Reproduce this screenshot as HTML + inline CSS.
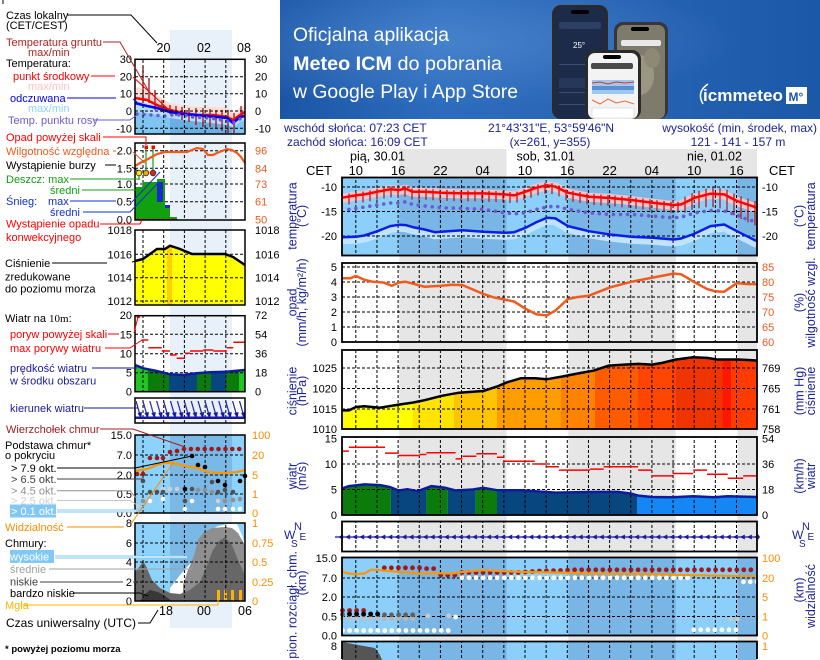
<!DOCTYPE html>
<html><head><meta charset="utf-8">
<style>
html,body{margin:0;padding:0;background:#fff;width:820px;height:660px;overflow:hidden;}
svg{display:block;font-family:"Liberation Sans",Arial,sans-serif;}
</style></head><body>
<svg width="820" height="660" viewBox="0 0 820 660" xmlns="http://www.w3.org/2000/svg" overflow="hidden">
<defs>
 <linearGradient id="bg" x1="0" y1="0" x2="1" y2="0">
  <stop offset="0" stop-color="#1b56a6"/>
  <stop offset="0.3" stop-color="#2d6cbd"/>
  <stop offset="0.55" stop-color="#2a66b6"/>
  <stop offset="1" stop-color="#1c58a8"/>
 </linearGradient>
 <radialGradient id="glow" cx="0.3" cy="0.35" r="0.55">
  <stop offset="0" stop-color="#5b93d8" stop-opacity="0.55"/>
  <stop offset="1" stop-color="#5b93d8" stop-opacity="0"/>
 </radialGradient>
 <pattern id="vg" patternUnits="userSpaceOnUse" x="355.3" y="0" width="21.15" height="5"><rect x="0" y="0" width="1" height="3" fill="#000"/></pattern>
 <pattern id="vgl" patternUnits="userSpaceOnUse" x="142.5" y="0" width="20.7" height="5"><rect x="0" y="0" width="1" height="3" fill="#000"/></pattern>
 <pattern id="arr" patternUnits="userSpaceOnUse" x="338" y="533.5" width="7.05" height="7"><polygon points="0,3.5 5,1 5,6" fill="#1a1aa0"/></pattern>
 <pattern id="arrD" patternUnits="userSpaceOnUse" x="135" y="399" width="6.9" height="24"><path d="M1 2 L5 16" stroke="#1a1aa0" stroke-width="1.2" fill="none"/><polygon points="2.5,14 7,13 6,20" fill="#1a1aa0"/></pattern>
 <clipPath id="cpP"><polygon points="342,410.4 348.9,410.4 355.8,407 364.4,406.3 379.9,407.7 398.8,404.6 412.6,402.6 424.6,400.2 441.8,395.8 459.1,392.7 483.2,391 496.9,386.6 507.3,382.2 521,378.2 534.8,378.2 546.9,379.2 562.4,376.5 579.6,373.1 593.4,370.7 608.9,365.6 624.4,364.6 638.1,363.9 651.9,364.6 662.2,362.9 676,359.5 693.2,357.2 707,357.9 717.3,359.5 738,359.5 757,360.5 757,429 342,429"/></clipPath>
 <clipPath id="cpW"><polygon points="342,488.5 348.9,486.1 364.4,484.4 379.9,485.1 390.2,487.1 398.8,490.5 407.4,489.2 417.7,491.2 431.5,486.1 445.3,487.8 455.6,490.5 472.8,489.5 483.2,487.8 496.9,490.2 521,490.2 534.8,491.2 555.5,492.6 576.1,492.2 596.8,491.9 617.5,491.9 631.2,493.6 638.1,495.6 651.9,497 672.5,497.3 693.2,496.3 713.9,497.3 727.7,496.3 757,497 757,515 342,515"/></clipPath>
 <clipPath id="cpLP"><polygon points="135,261 143,259 150,254 157,249 165,249 170,245.7 180,249 192,254 225,254 233,257 245,265 245,305 135,305"/></clipPath>
 <clipPath id="cpLW"><polygon points="135,365 143.3,368.3 156.7,371 170,374.3 183.3,375 196.7,373.3 210,372.3 226.7,371.7 236.7,370.7 245,370 245,391.7 135,391.7"/></clipPath>
</defs>

<!-- ================= BANNER ================= -->
<rect x="280" y="0" width="540" height="119" fill="url(#bg)"/>
<rect x="280" y="0" width="540" height="119" fill="url(#glow)"/>
<text x="293" y="41" font-size="19.5" fill="#fff" textLength="156" lengthAdjust="spacingAndGlyphs">Oficjalna aplikacja</text>
<text x="293" y="70" font-size="19.5" fill="#fff" textLength="209" lengthAdjust="spacingAndGlyphs"><tspan font-weight="bold">Meteo ICM</tspan> do pobrania</text>
<text x="293" y="98" font-size="19.5" fill="#fff" textLength="225" lengthAdjust="spacingAndGlyphs">w Google Play i App Store</text>
<rect x="552" y="5" width="56" height="114" rx="9" fill="#2a2a2c"/>
<rect x="555" y="8" width="50" height="111" rx="7" fill="#1c2b49"/>
<rect x="571" y="10" width="18" height="4" rx="2" fill="#000"/>
<rect x="559" y="22" width="42" height="7" rx="2" fill="#2d3f62"/>
<text x="573" y="48" font-size="8" fill="#fff">25°</text>
<rect x="559" y="64" width="42" height="1" fill="#3b4d70"/>
<rect x="559" y="78" width="42" height="10" rx="2" fill="#26375a"/>
<rect x="559" y="92" width="42" height="1" fill="#3b4d70"/>
<rect x="559" y="104" width="42" height="1" fill="#3b4d70"/>
<rect x="614" y="22" width="54" height="97" rx="9" fill="#37373a"/>
<rect x="617" y="25" width="48" height="94" rx="7" fill="#7e7b6c"/>
<rect x="631" y="27" width="18" height="4" rx="2" fill="#000"/>
<ellipse cx="640" cy="75" rx="14" ry="20" fill="#9a9780"/>
<ellipse cx="628" cy="100" rx="9" ry="12" fill="#6b6e58"/>
<ellipse cx="652" cy="58" rx="8" ry="10" fill="#8c8a76"/>
<rect x="621" y="40" width="40" height="6" rx="2" fill="#e8e8e8"/>
<rect x="585" y="50" width="56" height="69" rx="9" fill="#2a2a2c"/>
<rect x="588" y="53" width="50" height="66" rx="7" fill="#f3f3f3"/>
<rect x="603" y="55" width="18" height="4" rx="2" fill="#000"/>
<rect x="591" y="63" width="42" height="6" rx="2" fill="#4a4a4a"/>
<rect x="592" y="80" width="42" height="14" fill="#9fc8ef"/>
<rect x="592" y="86" width="42" height="4" fill="#5a8fd0"/>
<polyline points="592,83 600,82 608,84 616,82 625,83 634,82" stroke="#e03030" fill="none" stroke-width="1"/>
<polyline points="592,100 600,104 608,99 616,103 625,101 634,104" stroke="#e07040" fill="none" stroke-width="1"/>
<rect x="592" y="108" width="42" height="10" fill="#fff" stroke="#ccc" stroke-width="0.5"/>
<path d="M703 104 Q696 92 708 84" stroke="#fff" stroke-width="1.5" fill="none"/>
<text x="703" y="101" font-size="17" font-weight="bold" fill="#fff" textLength="80" lengthAdjust="spacingAndGlyphs">icmmeteo</text>
<rect x="786" y="87" width="21" height="17" fill="#fff"/>
<text x="788.5" y="101" font-size="12" font-weight="bold" fill="#1a56a8">M°</text>

<!-- ================= LEFT LEGEND PANEL ================= -->
<rect x="170" y="30" width="62" height="598" fill="#e8f0fa"/>
<line x1="3" y1="0" x2="3" y2="4" stroke="#000"/>

<polygon points="135,87 147,90 157,95 170,103 187,106 207,107 227,107 233,113 240,108 245,106 245,114 240,117 233,122 227,119 213,117 197,117 183,115 170,112 157,107 147,102 135,100" fill="#ffdcd4"/>
<polygon points="135,100 147,103 157,105 170,109 183,111 207,113 227,115 233,120 240,114 245,113 245,134 135,134" fill="#b2deff"/>
<polygon points="135,112 147,113 157,115 170,118 190,121 210,123 227,125 233,127 240,122 245,120 245,134 135,134" fill="#80c4f2"/>
<polygon points="170,118 190,121 210,123 227,125 232,127 232,134 170,134" fill="#6aaee2"/>
<path d="M143 67V100 M149 78V103 M155 90V110 M162 100V112 M170 105V114 M176 106V116 M182 107V120 M189 108V122 M196 108V125 M203 108V127 M210 109V127 M216 110V129 M222 110V131 M228 110V133 M234 113V133 M241 106V118" stroke="#a01010" stroke-width="1.3"/>
<polyline points="135,98 147,100 157,105 170,110 183,113 197,115 213,115 227,117 233,120 240,115 245,112" fill="none" stroke="#f00" stroke-width="2.5"/>
<polyline points="135,103 147,106 157,108 170,112 183,114 207,116 227,118 233,123 240,117 245,116" fill="none" stroke="#00f" stroke-width="2.5"/>
<polyline points="137,114 166,116 172,115 182,115 192,117 208,118 217,119 227,121 233,123 240,119 245,118" fill="none" stroke="#6b5bd2" stroke-width="3.4" stroke-dasharray="0 7" stroke-linecap="round"/>
<rect x="135" y="59.3" width="110" height="74.7" fill="url(#vgl)"/>
<g stroke="#000" stroke-width="1" stroke-dasharray="3 2"><path d="M135 76.7H245 M135 93.7H245 M135 111H245 M135 128.3H245"/></g>
<rect x="135" y="59.3" width="110" height="74.7" fill="none" stroke="#000" stroke-width="1.5"/>

<rect x="135" y="143" width="110" height="77" fill="url(#vgl)"/>
<g stroke="#000" stroke-width="1" stroke-dasharray="3 2"><path d="M135 150.7H245 M135 168.3H245 M135 184H245 M135 201.7H245"/></g>
<rect x="135" y="187" width="8" height="33" fill="#10a010"/>
<rect x="143" y="182" width="14" height="38" fill="#10a010"/>
<rect x="157" y="179" width="8" height="41" fill="#10a010"/>
<rect x="165" y="208" width="5" height="12" fill="#10a010"/>
<rect x="170" y="217" width="7" height="3" fill="#10a010"/>
<rect x="157" y="182" width="6" height="20" fill="#1a2ac8"/>
<rect x="165" y="205" width="5" height="3" fill="#1a2ac8"/>
<path d="M137 219.5H176" stroke="#f00" stroke-width="1.5" stroke-dasharray="3 2"/>
<path d="M139 172V180 M146 147V172 M153 147V172" stroke="#10a010" stroke-width="1.2"/>
<rect x="144.5" y="145.5" width="3.5" height="3.5" fill="#f00"/>
<rect x="151.5" y="145.5" width="3.5" height="3.5" fill="#f00"/>
<circle cx="139" cy="173" r="2.8" fill="#ffe000" stroke="#303030" stroke-width="0.8"/>
<circle cx="146" cy="173" r="2.8" fill="#f0a000" stroke="#303030" stroke-width="0.8"/>
<circle cx="153" cy="173" r="2.8" fill="#e02020" stroke="#303030" stroke-width="0.8"/>
<polyline points="135,166 140,163 148,159 157,154 165,152 173,152 187,152 197,148 203,149 208,155 213,155 217,153 227,149 232,150 237,153 241,157 245,163" fill="none" stroke="#f05a1e" stroke-width="2.2"/>
<rect x="135" y="143" width="110" height="77" fill="none" stroke="#000" stroke-width="1.5"/>

<g clip-path="url(#cpLP)"><rect x="135" y="240" width="110" height="70" fill="#ffff00"/><rect x="167" y="240" width="5" height="70" fill="#ffd000"/></g>
<rect x="135" y="230" width="110" height="75" fill="url(#vgl)"/>
<g stroke="#000" stroke-width="1" stroke-dasharray="3 2"><path d="M135 254.3H245 M135 277.7H245 M135 301H245"/></g>
<polyline points="135,261 143,259 150,254 157,249 165,249 170,245.7 180,249 192,254 225,254 233,257 245,265" fill="none" stroke="#000" stroke-width="2.5"/>
<rect x="135" y="230" width="110" height="75" fill="none" stroke="#000" stroke-width="1.5"/>

<g clip-path="url(#cpLW)">
<rect x="135" y="360" width="13" height="32" fill="#22c322"/><rect x="148" y="360" width="21" height="32" fill="#0b7b0b"/><rect x="169" y="360" width="28" height="32" fill="#08467f"/><rect x="197" y="360" width="14" height="32" fill="#0b7b0b"/><rect x="211" y="360" width="15" height="32" fill="#08467f"/><rect x="226" y="360" width="13" height="32" fill="#0b7b0b"/><rect x="239" y="360" width="6" height="32" fill="#22c322"/>
</g>
<rect x="135" y="315.7" width="110" height="76" fill="url(#vgl)"/>
<g stroke="#000" stroke-width="1" stroke-dasharray="3 2"><path d="M135 334.3H245 M135 353.7H245 M135 372.7H245"/></g>
<path d="M141.7 340H148.3 M148.3 347.7H161.7 M161.7 351H170 M170 355H176.7 M176.7 358.3H185 M185 353.3H190 M190 351H203.3 M203.3 350H213.3 M213.3 351H226.7 M226.7 347.7H233.3 M233.3 342.3H245" stroke="#f00" stroke-width="1.5"/>
<circle cx="138.3" cy="316.5" r="1.8" fill="#f00"/>
<polyline points="135,365 143.3,368.3 156.7,371 170,374.3 183.3,375 196.7,373.3 210,372.3 226.7,371.7 236.7,370.7 245,370" fill="none" stroke="#0c1c9c" stroke-width="2.5"/>
<rect x="135" y="315.7" width="110" height="76" fill="none" stroke="#000" stroke-width="1.5"/>

<rect x="135" y="398" width="110" height="25" fill="url(#vgl)"/>
<rect x="136" y="399" width="109" height="23" fill="url(#arrD)"/>
<rect x="135" y="416.5" width="110" height="2.5" fill="#1a1aa0"/>
<rect x="135" y="398" width="110" height="25" fill="none" stroke="#000" stroke-width="1.5"/>

<rect x="135" y="435" width="110" height="78" fill="#8dd2fb"/>
<rect x="170" y="435" width="62" height="78" fill="#7ab8e6"/>
<rect x="135" y="435" width="110" height="78" fill="url(#vgl)"/>
<g stroke="#000" stroke-width="1" stroke-dasharray="3 2"><path d="M135 455H245 M135 475H245 M135 494H245"/></g>
<g fill="#fff"><circle cx="143" cy="501" r="2.3"/><circle cx="150" cy="501" r="2.3"/><circle cx="163" cy="499" r="2.3"/><circle cx="185" cy="509" r="2.3"/><circle cx="192" cy="501" r="2.3"/><circle cx="218" cy="509" r="2.3"/><circle cx="225" cy="509" r="2.3"/><circle cx="233" cy="509" r="2.3"/><circle cx="240" cy="509" r="2.3"/></g>
<g fill="#d0d0d0"><circle cx="137" cy="506" r="2.3"/><circle cx="163" cy="489" r="2.3"/><circle cx="170" cy="489" r="2.3"/><circle cx="177" cy="489" r="2.3"/><circle cx="218" cy="501" r="2.3"/></g>
<g fill="#909090"><circle cx="143" cy="501" r="2.3"/><circle cx="198" cy="490" r="2.3"/><circle cx="205" cy="490" r="2.3"/><circle cx="212" cy="492" r="2.3"/><circle cx="225" cy="501" r="2.3"/><circle cx="233" cy="500" r="2.3"/><circle cx="240" cy="499" r="2.3"/></g>
<g fill="#505050"><circle cx="143" cy="481" r="2.3"/><circle cx="150" cy="492" r="2.3"/><circle cx="157" cy="492" r="2.3"/><circle cx="163" cy="492" r="2.3"/><circle cx="185" cy="501" r="2.3"/><circle cx="192" cy="489" r="2.3"/><circle cx="212" cy="482" r="2.3"/><circle cx="218" cy="492" r="2.3"/><circle cx="225" cy="490" r="2.3"/><circle cx="233" cy="492" r="2.3"/></g>
<g fill="#000"><circle cx="192" cy="456" r="2.3"/><circle cx="198" cy="465" r="2.3"/><circle cx="205" cy="467" r="2.3"/><circle cx="218" cy="481" r="2.3"/><circle cx="225" cy="485" r="2.3"/><circle cx="240" cy="481" r="2.3"/><circle cx="185" cy="489" r="2.3"/><circle cx="245" cy="476" r="2.3"/></g>
<g fill="#a01818"><circle cx="137" cy="474" r="2.3"/><circle cx="143" cy="474" r="2.3"/><circle cx="150" cy="458" r="2.3"/><circle cx="157" cy="458" r="2.3"/><circle cx="163" cy="458" r="2.3"/><circle cx="170" cy="452" r="2.3"/><circle cx="177" cy="451" r="2.3"/></g>
<polyline points="184,449 245,449" fill="none" stroke="#a01818" stroke-width="4.6" stroke-dasharray="0 6.9" stroke-linecap="round"/>
<polyline points="135,471 147,469 157,465 163,463 173,463 185,466 197,468 207,472 217,473 227,473 237,472 245,470" fill="none" stroke="#ff9600" stroke-width="2.2"/>
<rect x="135" y="435" width="110" height="78" fill="none" stroke="#000" stroke-width="1.5"/>

<rect x="135" y="523" width="110" height="78" fill="#8dd2fb"/>
<rect x="170" y="523" width="62" height="78" fill="#7ab8e6"/>
<polygon points="170,601 170,588 180,575 188,566 195,558 198,545 203,538 210,530 218,526 228,524 237,524 242,535 245,545 245,601" fill="#fff"/>
<polygon points="135,601 135,585 145,580 155,588 165,595 175,598 183,596 183,585 188,570 194,556 198,540 203,533 212,528 225,527 232,528 238,533 245,545 245,601" fill="#8f8f8f"/>
<polygon points="135,601 135,572 140,566 143,561 146,566 152,580 160,588 170,593 180,594 190,590 200,582 206,568 212,552 218,542 225,537 232,545 238,560 245,575 245,601" fill="#676767"/>
<polygon points="140,601 145,594 150,590 158,592 165,596 172,601" fill="#383838"/>
<g fill="#ffb000"><rect x="217" y="590" width="3" height="11"/><rect x="224" y="590" width="3" height="11"/><rect x="231" y="590" width="3" height="11"/><rect x="239" y="590" width="3" height="11"/></g>
<rect x="135" y="523" width="110" height="78" fill="url(#vgl)"/>
<g stroke="#000" stroke-width="1" stroke-dasharray="3 2"><path d="M135 543H245 M135 562H245 M135 582H245"/></g>
<rect x="135" y="523" width="110" height="78" fill="none" stroke="#000" stroke-width="1.5"/>

<g font-size="11" fill="#000" text-anchor="end">
<text x="132" y="63">30</text><text x="132" y="80.7">20</text><text x="132" y="97.7">10</text><text x="132" y="115">0</text><text x="132" y="132.3">-10</text>
<text x="132" y="154.7">2.0</text><text x="132" y="172.3">1.5</text><text x="132" y="188">1.0</text><text x="132" y="205.7">0.5</text><text x="132" y="223.3">0.0</text>
<text x="132" y="234">1018</text><text x="132" y="258.3">1016</text><text x="132" y="281.7">1014</text><text x="132" y="305">1012</text>
<text x="132" y="319">20</text><text x="132" y="338.3">15</text><text x="132" y="357.7">10</text><text x="132" y="376.7">5</text><text x="132" y="395.7">0</text>
<text x="132" y="439">15.0</text><text x="132" y="459">7.0</text><text x="132" y="479">2.0</text><text x="132" y="498">0.5</text><text x="132" y="517">0.0</text>
<text x="132" y="527">8</text><text x="132" y="547">6</text><text x="132" y="566">4</text><text x="132" y="586">2</text><text x="132" y="605">0</text>
</g>
<g font-size="11" fill="#000">
<text x="255" y="63">30</text><text x="255" y="80.7">20</text><text x="255" y="97.7">10</text><text x="255" y="115">0</text><text x="255" y="132.3">-10</text>
<text x="255" y="234">1018</text><text x="255" y="258.3">1016</text><text x="255" y="281.7">1014</text><text x="255" y="305">1012</text>
<text x="255" y="319">72</text><text x="255" y="338.3">54</text><text x="255" y="357.7">36</text><text x="255" y="376.7">18</text><text x="255" y="395.7">0</text>
</g>
<g font-size="11" fill="#f05a1e">
<text x="255" y="154.7">96</text><text x="255" y="172.3">84</text><text x="255" y="188">73</text><text x="255" y="205.7">61</text><text x="255" y="223.3">50</text>
</g>
<g font-size="11" fill="#ff8c00">
<text x="252" y="439">100</text><text x="252" y="459">20</text><text x="252" y="479">5</text><text x="252" y="498">1</text><text x="252" y="517">0</text>
<text x="252" y="527">1</text><text x="252" y="547">0.75</text><text x="252" y="566">0.5</text><text x="252" y="586">0.25</text><text x="252" y="605">0</text>
</g>
<g font-size="12.5" fill="#000" text-anchor="middle">
<text x="163.5" y="52">20</text><text x="204" y="52">02</text><text x="244" y="52">08</text>
<text x="166" y="615">18</text><text x="204" y="615">00</text><text x="245" y="615">06</text>
</g>

<g fill="none" stroke-width="1">
<polyline points="67,15 131,15 157,43" stroke="#000"/>
<polyline points="103,42 120,42 148,90" stroke="#b22222"/>
<polyline points="91,76 115,76" stroke="#f00"/><polyline points="133,77 167,108" stroke="#f00"/>
<polyline points="67,98 116,98" stroke="#00f"/><polyline points="133,99 137,102" stroke="#00f"/>
<polyline points="94,120 130,120 137,115" stroke="#6b5bd2"/>
<polyline points="103,137 146,137 146,145" stroke="#f00"/>
<polyline points="113,151 116,151" stroke="#f05a1e"/><polyline points="133,152 145,163" stroke="#f05a1e"/>
<polyline points="105,165 116,165" stroke="#000"/><polyline points="132,167 138,171" stroke="#000"/>
<polyline points="70,179 139,179" stroke="#10a010"/>
<polyline points="82,190 136,190" stroke="#10a010"/>
<polyline points="70,201 116,201" stroke="#1030d0"/><polyline points="132,202 160,172" stroke="#1030d0"/>
<polyline points="83,212 130,212 158,183" stroke="#1030d0"/>
<polyline points="100,224 140,224 142,220" stroke="#f00"/>
<polyline points="52,263 107,263" stroke="#000"/><polyline points="132,262 136,261" stroke="#000"/>
<polyline points="108,334 119,334" stroke="#f00"/><polyline points="134,333 138,317" stroke="#f00"/>
<polyline points="105,348 130,348 142,340" stroke="#f00"/>
<polyline points="92,368 137,368" stroke="#1a1a9a"/>
<polyline points="84,408 138,408" stroke="#1a1a9a"/>
<polyline points="100,429 133,429 185,447" stroke="#a02020"/>
<polyline points="57,468 135,468 192,456" stroke="#000"/>
<polyline points="57,479 143,479 143,481" stroke="#404040"/>
<polyline points="57,490.7 130,490.7 136,498" stroke="#909090"/>
<polyline points="57,500.5 130,500.5 137,505" stroke="#c8c8c8"/>
<polyline points="57,511 136,511" stroke="#82c8f5" stroke-width="3"/><polyline points="57,511 136,511" stroke="#fff" stroke-width="1"/>
<polyline points="67,527 124,527" stroke="#ff8c00"/><polyline points="131,524 173,463" stroke="#ff8c00"/>
<polyline points="55,557 187,557" stroke="#82c8f5" stroke-width="3"/><polyline points="55,557 187,557" stroke="#fff" stroke-width="1"/>
<polyline points="49,569 192,569" stroke="#a0a0a0"/>
<polyline points="40,582 123,582" stroke="#404040"/><polyline points="133,582 136,582" stroke="#404040"/>
<polyline points="73,593 140,593 148,596" stroke="#000"/>
<polyline points="23,605 218,605 218,598" stroke="#ffb400"/>
<polyline points="138,623 150,623 158,610" stroke="#000"/>
</g>

<g font-size="11" fill="#000">
<text x="6" y="19">Czas lokalny</text>
<text x="6" y="29">(CET/CEST)</text>
<text x="6" y="46" fill="#b22222">Temperatura gruntu</text>
<text x="28" y="56" fill="#b22222">max/min</text>
<text x="6" y="67">Temperatura:</text>
<text x="13" y="80" fill="#f00">punkt środkowy</text>
<text x="28" y="90" fill="#ffc4c4">max/min</text>
<text x="10" y="102" fill="#00f">odczuwana</text>
<text x="28" y="112" fill="#90d0ff">max/min</text>
<text x="8" y="124" fill="#6b5bd2">Temp. punktu rosy</text>
<text x="6" y="141" fill="#f00">Opad powyżej skali</text>
<text x="6" y="155" fill="#f05a1e">Wilgotność względna</text>
<text x="6" y="169">Wystąpienie burzy</text>
<text x="6" y="183" fill="#10a010">Deszcz: max</text>
<text x="50" y="194" fill="#10a010">średni</text>
<text x="6" y="205" fill="#1030d0">Śnieg:</text><text x="48" y="205" fill="#1030d0">max</text>
<text x="50" y="216" fill="#1030d0">średni</text>
<text x="6" y="227.5" fill="#f00">Wystąpienie opadu</text>
<text x="6" y="241" fill="#f00">konwekcyjnego</text>
<text x="5" y="267">Ciśnienie</text>
<text x="5" y="280.5">zredukowane</text>
<text x="5" y="292.5">do poziomu morza</text>
<text x="5" y="322">Wiatr na <tspan font-family="Liberation Serif, serif">10m</tspan>:</text>
<text x="10" y="338" fill="#f00">poryw powyżej skali</text>
<text x="10" y="352" fill="#f00">max porywy wiatru</text>
<text x="10" y="372" fill="#1a1a9a">prędkość wiatru</text>
<text x="10" y="384.5" fill="#1a1a9a">w środku obszaru</text>
<text x="10" y="412" fill="#1a1a9a">kierunek wiatru</text>
<text x="6" y="433" fill="#a02020">Wierzchołek chmur</text>
<text x="5" y="449">Podstawa chmur*</text>
<text x="5" y="459">o pokryciu</text>
<text x="11" y="472">&gt; 7.9 okt.</text>
<text x="11" y="483" fill="#404040">&gt; 6.5 okt.</text>
<text x="11" y="494.5" fill="#909090">&gt; 4.5 okt.</text>
<text x="11" y="504.5" fill="#d0d0d0">&gt; 2.5 okt.</text>
<rect x="10" y="504.5" width="46" height="13" fill="#82c8f5"/>
<text x="11" y="515" fill="#fff">&gt; 0.1 okt.</text>
<text x="5" y="531" fill="#ff8c00">Widzialność</text>
<text x="5" y="547">Chmury:</text>
<rect x="10" y="550" width="44" height="13" fill="#82c8f5"/>
<text x="10" y="560.5" fill="#fff">wysokie</text>
<text x="10" y="573" fill="#a0a0a0">średnie</text>
<text x="10" y="585.5" fill="#404040">niskie</text>
<text x="10" y="597">bardzo niskie</text>
<text x="5" y="609" fill="#ffb400">Mgła</text>
<text x="6" y="627" font-size="12">Czas uniwersalny (UTC)</text>
<text x="5" y="652" font-size="9.5" font-weight="bold">* powyżej poziomu morza</text>
</g>

<!-- ================= MAIN CHART ================= -->
<g font-size="12" fill="#1e2496">
<text x="284" y="132">wschód słońca: 07:23 CET</text>
<text x="287" y="146">zachód słońca: 16:09 CET</text>
<text x="551" y="132" text-anchor="middle">21°43'31"E, 53°59'46"N</text>
<text x="550" y="146" text-anchor="middle">(x=261,  y=355)</text>
<text x="817" y="132" text-anchor="end">wysokość (min, środek, max)</text>
<text x="738" y="146" text-anchor="middle">121 - 141 - 157 m</text>
</g>
<rect x="399.2" y="149" width="107.4" height="28" fill="#e6e6e6"/>
<rect x="568.4" y="149" width="188.6" height="28" fill="#e6e6e6"/>
<rect x="399.2" y="177" width="107.4" height="483" fill="#e6e6e6"/>
<rect x="568.4" y="177" width="107.4" height="483" fill="#e6e6e6"/>
<rect x="737.6" y="177" width="19.4" height="483" fill="#e6e6e6"/>
<g font-size="12.5" fill="#000">
<text x="350" y="160.5">pią, 30.01</text>
<text x="516.5" y="160.5">sob, 31.01</text>
<text x="687" y="160.5">nie, 01.02</text>
</g>
<g font-size="13" fill="#000" text-anchor="middle">
<text x="319" y="175">CET</text><text x="782" y="175">CET</text>
<text x="355.8" y="175">10</text><text x="398.1" y="175">16</text><text x="440.4" y="175">22</text><text x="482.7" y="175">04</text>
<text x="525" y="175">10</text><text x="567.3" y="175">16</text><text x="609.6" y="175">22</text><text x="651.9" y="175">04</text>
<text x="694.2" y="175">10</text><text x="736.5" y="175">16</text>
</g>

<rect x="342" y="177.5" width="415" height="78" fill="#8ccffa"/>
<rect x="399.2" y="177.5" width="107.4" height="78" fill="#79b5e5"/>
<rect x="568.4" y="177.5" width="107.4" height="78" fill="#79b5e5"/>
<rect x="737.6" y="177.5" width="19.4" height="78" fill="#79b5e5"/>
<polyline points="342,237.2 355.8,236.8 364.4,235.5 377.5,231.2 390.2,226.1 398.8,224.8 405.7,225.1 412.6,227.1 424.6,229.5 435,232.2 441.2,231.8 462.5,230.2 483.5,231.8 504.9,232.8 514.2,232.2 525.5,227.8 536.5,222.1 546.9,217.8 555.5,218.4 567.9,226.1 588.9,231.2 609.9,234.5 631.2,236.8 652.6,237.8 673.6,239.5 681.2,238.5 695,233.5 710.4,226.1 724.2,224.5 737,231.2 757,241.2" fill="none" stroke="#c0e4ff" stroke-width="8" stroke-linejoin="round" transform="translate(0,3)"/>
<polyline points="342,197.7 355.8,195.4 364.4,194.4 377.5,191.7 390.2,189.3 398.8,190 405.7,188.7 412.6,191.7 424.6,191.7 441.2,192.7 462.5,193.4 483.5,193.4 504.9,194.4 514.2,195.4 525.5,191.7 536.5,187.7 546.9,185.3 555.5,186.7 567.9,192.7 588.9,196.7 609.9,198 631.2,200 652.6,202.7 673.6,205 681.2,204.4 695,197.7 710.4,193.7 724.2,194.4 737,201 757,207.7" fill="none" stroke="#f8c4cc" stroke-width="9" stroke-linejoin="round" transform="translate(0,0.5)"/>
<rect x="342" y="177.5" width="415" height="78" fill="url(#vg)"/>
<g stroke="#000" stroke-width="1" stroke-dasharray="3 2"><path d="M342 187H757 M342 211.5H757 M342 236H757"/></g>
<path d="M349 193.5V204.5 M356 192.4V203.4 M363 191.6V202.6 M370 190.2V201.2 M377 188.8V199.8 M384 187.5V198.5 M391 186.4V197.4 M398 186.9V197.9 M405 185.8V196.8 M412 188.5V199.5 M419 188.7V199.7 M426 188.8V199.8 M433 189.2V200.2 M440 189.6V200.6 M447 189.9V200.9 M454 190.1V201.1 M461 190.4V201.4 M468 190.4V201.4 M475 190.4V201.4 M482 190.4V201.4 M489 190.7V201.7 M496 191V202 M503 191.3V202.3 M510 192V203 M517 191.6V202.6 M524 189.2V200.2 M531 186.7V197.7 M538 184.4V195.4 M545 182.7V193.7 M552 183.1V194.1 M559 185.4V196.4 M566 189.4V200.4 M573 190.7V201.7 M580 192V203 M587 193.4V204.4 M594 194V205 M601 194.5V205.5 M608 194.9V205.9 M615 195.5V206.5 M622 196.2V207.2 M629 196.8V207.8 M636 197.7V208.7 M643 198.5V209.5 M650 199.4V210.4 M657 200.2V211.2 M664 200.9V211.9 M671 201.7V212.7 M678 201.7V212.7 M685 196.6V212.6 M692 193.1V209.9 M699 190.7V208.4 M706 188.8V207.3 M713 187.8V207.2 M720 188.2V208.4 M727 189.8V210.8 M734 193.5V215.4 M741 196.3V219 M748 198.6V222.2 M755 201V225.4" stroke="#b01010" stroke-width="1.2"/>
<polyline points="342,237.2 355.8,236.8 364.4,235.5 377.5,231.2 390.2,226.1 398.8,224.8 405.7,225.1 412.6,227.1 424.6,229.5 435,232.2 441.2,231.8 462.5,230.2 483.5,231.8 504.9,232.8 514.2,232.2 525.5,227.8 536.5,222.1 546.9,217.8 555.5,218.4 567.9,226.1 588.9,231.2 609.9,234.5 631.2,236.8 652.6,237.8 673.6,239.5 681.2,238.5 695,233.5 710.4,226.1 724.2,224.5 737,231.2 757,241.2" fill="none" stroke="#0a1ee6" stroke-width="2.5" stroke-linejoin="round"/>
<polyline points="342,197.7 355.8,195.4 364.4,194.4 377.5,191.7 390.2,189.3 398.8,190 405.7,188.7 412.6,191.7 424.6,191.7 441.2,192.7 462.5,193.4 483.5,193.4 504.9,194.4 514.2,195.4 525.5,191.7 536.5,187.7 546.9,185.3 555.5,186.7 567.9,192.7 588.9,196.7 609.9,198 631.2,200 652.6,202.7 673.6,205 681.2,204.4 695,197.7 710.4,193.7 724.2,194.4 737,201 757,207.7" fill="none" stroke="#f00" stroke-width="2.5" stroke-linejoin="round"/>
<polyline points="348.9,209.4 364.4,207 377.5,205 390.2,203 398.8,203 405.7,201.7 412.6,204.4 424.6,206 441.2,207.7 462.5,208.4 483.5,209.4 493.5,211 504.9,212.8 514.2,213.8 525.5,212.8 536.5,209.4 546.9,207 555.5,206 567.9,209.4 588.9,212.8 609.9,214.4 631.2,214.4 652.6,216.1 673.6,217.8 681.2,217.1 695,212.8 710.4,210.5 724.2,211 737,215 748.3,220 757,221.5" fill="none" stroke="#6b5bd2" stroke-width="3.6" stroke-dasharray="0 7.05" stroke-linecap="round"/>
<rect x="342" y="177.5" width="415" height="78" fill="none" stroke="#000" stroke-width="1.8"/>

<rect x="342" y="263" width="415" height="79" fill="url(#vg)"/>
<g stroke="#000" stroke-width="1" stroke-dasharray="3 2"><path d="M342 267H757 M342 282H757 M342 297H757 M342 312H757 M342 327H757"/></g>
<polyline points="342,278.2 350.6,278.2 355.8,275.9 364.4,279.9 373,281.8 383.3,282.5 391.9,285.8 398.8,282.5 405.7,281.8 414.3,284.1 424.6,286.8 441.2,285.8 452.2,284.8 462.5,285.1 483.5,294 493.5,297.3 504.9,299.6 514.2,301.6 525.5,308.8 536.5,314.4 546.9,315.4 555.5,310.5 567.9,299 576.1,297.3 588.9,295.7 609.9,287.4 631.2,281.8 652.6,277.6 673.6,273.6 681.2,274.3 695,282.5 707,289 715.6,291.4 724.2,291.7 737,283.1 748.3,284.1 757,284.1" fill="none" stroke="#f05a1e" stroke-width="2.5" stroke-linejoin="round"/>
<rect x="342" y="263" width="415" height="79" fill="none" stroke="#000" stroke-width="1.8"/>

<g clip-path="url(#cpP)">
<rect x="342" y="350" width="70.6" height="80" fill="#ffff00"/>
<rect x="412.6" y="350" width="41.3" height="80" fill="#ffe400"/>
<rect x="453.9" y="350" width="43.1" height="80" fill="#ffc400"/>
<rect x="497" y="350" width="63.6" height="80" fill="#ff9c00"/>
<rect x="560.6" y="350" width="34.4" height="80" fill="#ff8200"/>
<rect x="595" y="350" width="43" height="80" fill="#ff5c00"/>
<rect x="638" y="350" width="38" height="80" fill="#ff4600"/>
<rect x="676" y="350" width="46.5" height="80" fill="#f03400"/>
<rect x="722.5" y="350" width="8.5" height="80" fill="#ff1800"/>
<rect x="731" y="350" width="26" height="80" fill="#ff3c00"/>
</g>
<rect x="342" y="350" width="415" height="79" fill="url(#vg)"/>
<g stroke="#000" stroke-width="1" stroke-dasharray="3 2"><path d="M342 368H757 M342 388.5H757 M342 409H757"/></g>
<polyline points="342,410.4 348.9,410.4 355.8,407 364.4,406.3 379.9,407.7 398.8,404.6 412.6,402.6 424.6,400.2 441.8,395.8 459.1,392.7 483.2,391 496.9,386.6 507.3,382.2 521,378.2 534.8,378.2 546.9,379.2 562.4,376.5 579.6,373.1 593.4,370.7 608.9,365.6 624.4,364.6 638.1,363.9 651.9,364.6 662.2,362.9 676,359.5 693.2,357.2 707,357.9 717.3,359.5 738,359.5 757,360.5" fill="none" stroke="#000" stroke-width="2.5" stroke-linejoin="round"/>
<rect x="342" y="350" width="415" height="79" fill="none" stroke="#000" stroke-width="1.8"/>

<g clip-path="url(#cpW)">
<rect x="342" y="480" width="48.9" height="36" fill="#0b7b0b"/>
<rect x="390.9" y="480" width="35.5" height="36" fill="#08467f"/>
<rect x="426.4" y="480" width="21.3" height="36" fill="#0b7b0b"/>
<rect x="447.7" y="480" width="27.9" height="36" fill="#08467f"/>
<rect x="475.6" y="480" width="21.4" height="36" fill="#0b7b0b"/>
<rect x="497" y="480" width="140" height="36" fill="#08467f"/>
<rect x="637" y="480" width="120" height="36" fill="#1587f5"/>
</g>
<rect x="342" y="437" width="415" height="78" fill="url(#vg)"/>
<g stroke="#000" stroke-width="1" stroke-dasharray="3 2"><path d="M342 464H757 M342 489.5H757"/></g>
<path d="M343 451.1H348.9 M348.9 447.3H385 M385 453.1H398.8 M398.8 455.5H419.5 M419.5 454.5H426.4 M426.4 452.8H455.6 M455.6 458.9H462.5 M462.5 456.2H476.3 M476.3 453.8H497 M497 457.2H503.8 M503.8 461.3H534.8 M534.8 464H546.9 M546.9 466.7H558.9 M558.9 470.1H589.9 M589.9 469.1H603.7 M603.7 466.7H638.1 M638.1 470.1H651.9 M651.9 475.9H672.6 M672.6 473.5H693.2 M693.2 470.1H707 M707 474.2H727.7 M727.7 478.3H743.2 M743.2 475.9H757" stroke="#f00" stroke-width="1.5"/>
<polyline points="342,488.5 348.9,486.1 364.4,484.4 379.9,485.1 390.2,487.1 398.8,490.5 407.4,489.2 417.7,491.2 431.5,486.1 445.3,487.8 455.6,490.5 472.8,489.5 483.2,487.8 496.9,490.2 521,490.2 534.8,491.2 555.5,492.6 576.1,492.2 596.8,491.9 617.5,491.9 631.2,493.6 638.1,495.6 651.9,497 672.5,497.3 693.2,496.3 713.9,497.3 727.7,496.3 757,497" fill="none" stroke="#0c1c9c" stroke-width="2.5" stroke-linejoin="round"/>
<rect x="342" y="437" width="415" height="78" fill="none" stroke="#000" stroke-width="1.8"/>

<rect x="342" y="521.5" width="415" height="30" fill="url(#vg)"/>
<line x1="335" y1="537" x2="760" y2="537" stroke="#1a1aa0" stroke-width="1.3"/>
<rect x="336" y="533.5" width="424" height="7" fill="url(#arr)"/>
<rect x="342" y="521.5" width="415" height="30" fill="none" stroke="#000" stroke-width="1.8"/>

<rect x="342" y="557.5" width="415" height="78" fill="#8ccffa"/>
<rect x="399.2" y="557.5" width="107.4" height="78" fill="#79b5e5"/>
<rect x="568.4" y="557.5" width="107.4" height="78" fill="#79b5e5"/>
<rect x="737.6" y="557.5" width="19.4" height="78" fill="#79b5e5"/>
<rect x="342" y="557.5" width="415" height="78" fill="url(#vg)"/>
<g stroke="#000" stroke-width="1" stroke-dasharray="3 2"><path d="M342 578H757 M342 597H757 M342 616.5H757"/></g>
<g fill="none" stroke-linecap="round" stroke-width="4.8">
<polyline points="462,577.8 690.5,577.8" stroke="#fff" stroke-dasharray="0 7.05"/>
<polyline points="743.5,581.8 757,581.8" stroke="#fff" stroke-dasharray="0 6.75"/>
<polyline points="342.5,630.5 449,630.5" stroke="#fff" stroke-dasharray="0 7.05"/>
<polyline points="693.7,629.8 737,629.8" stroke="#fff" stroke-dasharray="0 7.05"/>
<polyline points="342.5,618.5 378,618.5" stroke="#c0c0c0" stroke-dasharray="0 7.05"/>
<polyline points="384.5,618.5 413,618.5" stroke="#b8b8b8" stroke-dasharray="0 7.05"/>
<polyline points="342.5,610.5 364,610.5" stroke="#a01818" stroke-dasharray="0 7.05"/>
<polyline points="342.5,614.5 378,614.5" stroke="#606060" stroke-dasharray="0 7.05"/>
<polyline points="349.5,614 378,614" stroke="#000" stroke-dasharray="0 7.05"/>
<polyline points="384.5,614.8 413,614.8" stroke="#606060" stroke-dasharray="0 7.05"/>
<polyline points="384.3,567.8 420,567.8" stroke="#a01818" stroke-dasharray="0 7.05"/>
<polyline points="426.6,568.6 434,568.6" stroke="#a01818" stroke-dasharray="0 7.05"/>
<polyline points="440.7,575 455,575" stroke="#a01818" stroke-dasharray="0 7.05"/>
<polyline points="461.9,572.5 518.3,572.5 539.4,571 560.6,570.5 574.7,569.8 757.5,569.8" stroke="#a01818" stroke-dasharray="0 7.05"/>
</g>
<g fill="#c8c8c8"><circle cx="428" cy="615.8" r="2.4"/><circle cx="448.7" cy="615.8" r="2.4"/><circle cx="731" cy="619" r="2.4"/><circle cx="737.5" cy="619" r="2.4"/></g>
<circle cx="455.6" cy="617" r="2.4" fill="#fff"/>
<circle cx="757" cy="581.8" r="2.4" fill="#fff"/>
<polyline points="342,571.9 348.9,573.5 355.8,574.2 364.4,573.5 371.3,569.6 379.9,570.2 397.1,571.9 417.7,573.5 435,573.2 452.2,573.5 462.5,571.9 483.2,570.2 503.8,571.2 521,571.9 555.5,572.5 589.9,573.5 624.4,573.8 658.8,574.5 693.2,575.2 727.7,575.8 757,576.2" fill="none" stroke="#ff9600" stroke-width="2.2"/>
<rect x="342" y="557.5" width="415" height="78" fill="none" stroke="#000" stroke-width="1.8"/>

<rect x="342" y="641.5" width="415" height="18.5" fill="#8ccffa"/>
<rect x="399.2" y="641.5" width="107.4" height="18.5" fill="#79b5e5"/>
<rect x="568.4" y="641.5" width="107.4" height="18.5" fill="#79b5e5"/>
<rect x="737.6" y="641.5" width="19.4" height="18.5" fill="#79b5e5"/>
<polygon points="342,642 350,643.5 375,648 380,655 382,660 342,660" fill="#555"/>
<rect x="342" y="641.5" width="415" height="18.5" fill="url(#vg)"/>
<path d="M342 659V641.5H757V659" fill="none" stroke="#000" stroke-width="1.8"/>

<g font-size="11" fill="#000" text-anchor="end">
<text x="337" y="191">-10</text><text x="337" y="215.5">-15</text><text x="337" y="240">-20</text>
<text x="337" y="271">5</text><text x="337" y="286">4</text><text x="337" y="301">3</text><text x="337" y="316">2</text><text x="337" y="331">1</text><text x="337" y="346">0</text>
<text x="337" y="372">1025</text><text x="337" y="392.5">1020</text><text x="337" y="413">1015</text><text x="337" y="433">1010</text>
<text x="337" y="442.5">15</text><text x="337" y="468">10</text><text x="337" y="493.5">5</text><text x="337" y="519">0</text>
<text x="337" y="562">15.0</text><text x="337" y="582">7.0</text><text x="337" y="601">2.0</text><text x="337" y="620.5">0.5</text><text x="337" y="639.5">0.0</text>
<text x="337" y="650">8</text>
</g>
<g font-size="11" fill="#000">
<text x="762" y="191">-10</text><text x="762" y="215.5">-15</text><text x="762" y="240">-20</text>
<text x="762" y="372">769</text><text x="762" y="392.5">765</text><text x="762" y="413">761</text><text x="762" y="433">758</text>
<text x="762" y="442.5">54</text><text x="762" y="468">36</text><text x="762" y="493.5">18</text><text x="762" y="519">0</text>
</g>
<g font-size="11" fill="#f05a1e">
<text x="762" y="271">85</text><text x="762" y="286">80</text><text x="762" y="301">75</text><text x="762" y="316">70</text><text x="762" y="331">65</text><text x="762" y="346">60</text>
</g>
<g font-size="11" fill="#ff8c00">
<text x="762" y="562">100</text><text x="762" y="582">20</text><text x="762" y="601">5</text><text x="762" y="620.5">1</text><text x="762" y="639.5">0</text>
<text x="762" y="650">1</text>
</g>

<g font-size="12.5" fill="#1e2496" text-anchor="middle">
<text transform="translate(296.5,216) rotate(-90)">temperatura</text>
<text transform="translate(306,216) rotate(-90)">(°C)</text>
<text transform="translate(296.5,302.5) rotate(-90)">opad</text>
<text transform="translate(306,302.5) rotate(-90)">(mm/h, kg/m²/h)</text>
<text transform="translate(296.5,391) rotate(-90)">ciśnienie</text>
<text transform="translate(306,391) rotate(-90)">(hPa)</text>
<text transform="translate(296.5,476) rotate(-90)">wiatr</text>
<text transform="translate(306,476) rotate(-90)">(m/s)</text>
<text transform="translate(306,583) rotate(-90)">(km)</text>
<text transform="translate(815,216) rotate(-90)">temperatura</text>
<text transform="translate(803.5,216) rotate(-90)">(°C)</text>
<text transform="translate(815,302.5) rotate(-90)">wilgotność wzgl.</text>
<text transform="translate(803.5,302.5) rotate(-90)">(%)</text>
<text transform="translate(815,391) rotate(-90)">ciśnienie</text>
<text transform="translate(803.5,391) rotate(-90)">(mm Hg)</text>
<text transform="translate(815,476) rotate(-90)">wiatr</text>
<text transform="translate(803.5,476) rotate(-90)">(km/h)</text>
<text transform="translate(815,596) rotate(-90)">widzialność</text>
<text transform="translate(803.5,590) rotate(-90)">(km)</text>
</g>
<text transform="translate(296.5,551) rotate(-90)" text-anchor="end" font-size="12.5" fill="#1e2496">pion. rozciągł. chm.</text>
<g fill="#1e2496">
<text x="284" y="539" font-size="12">W</text><text x="294" y="530" font-size="11">N</text><text x="291" y="547" font-size="10">S</text><text x="299.5" y="540" font-size="10">E</text>
<text x="792" y="539" font-size="12">W</text><text x="802" y="530" font-size="11">N</text><text x="799" y="547" font-size="10">S</text><text x="807.5" y="540" font-size="10">E</text>
</g>
</svg>
</body></html>
